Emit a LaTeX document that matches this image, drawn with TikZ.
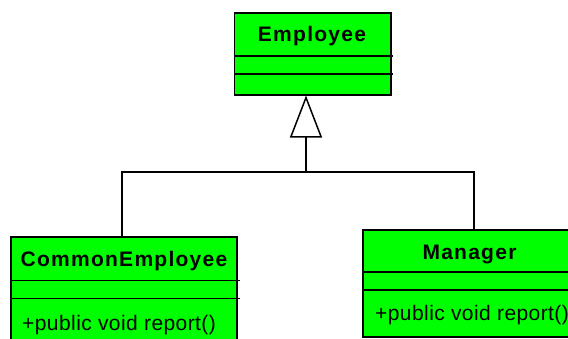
\documentclass[tikz,border=0pt]{standalone}
\usepackage{fontspec}
\setmainfont{Liberation Sans}
\newfontfamily\titlefont[LetterSpace=6]{Liberation Sans Bold}
\newfontfamily\opfont[LetterSpace=2]{Liberation Sans}
\usetikzlibrary{arrows.meta}
\definecolor{umlgreen}{RGB}{0,255,0}
\tikzset{
  cls/.style={draw=black, fill=umlgreen, line width=1.5pt, inner sep=0pt, anchor=north west},
  divider/.style={line width=1.5pt},
  conn/.style={line width=1.5pt},
  title/.style={font=\titlefont\fontsize{21}{24}\selectfont, inner sep=0pt, anchor=base},
  op/.style={font=\opfont\fontsize{21}{24}\selectfont, inner sep=0pt, anchor=base west},
}
\begin{document}
\begin{tikzpicture}[x=1pt,y=1pt]
\useasboundingbox (0,0) rectangle (568,-338);
\clip (0,0) rectangle (568,-338);
% Employee
\node[cls, minimum width=156.5pt, minimum height=82pt] (emp) at (233.5,-12) {};
\node[title] (empt) at (312,-41.5) {Employee};
\draw[divider] (233.5,-56) -- (392.7,-56);
\draw[divider] (233.5,-74) -- (392.7,-74);
% CommonEmployee
\node[cls, minimum width=226pt, minimum height=120pt] (ce) at (10,-236) {};
\node[title] (cet) at (124,-266.5) {CommonEmployee};
\draw[divider] (10,-280.7) -- (239.5,-280.7);
\draw[divider] (10,-298.7) -- (239.5,-298.7);
\node[op] (ceop) at (22,-330) {+public void report()};
% Manager
\node[cls, minimum width=215pt, minimum height=107pt] (mg) at (362,-229) {};
\node[title] (mgt) at (469.5,-259) {Manager};
\draw[divider] (362,-272) -- (577,-272);
\draw[divider] (362,-290) -- (577,-290);
\node[op] (mgop) at (375,-320.7) {+public void report()};
% connectors
\coordinate (j) at (306,-172);
\coordinate (jl) at (122,-172);
\coordinate (jr) at (474,-172);
\draw[conn] (jl |- ce.north) -- (jl) -- (jr) -- (jr |- mg.north);
\draw[conn, -{Triangle[open, width=32pt, length=42pt, line width=1.5pt]}] (j) -- (j |- emp.south);
\end{tikzpicture}
\end{document}
